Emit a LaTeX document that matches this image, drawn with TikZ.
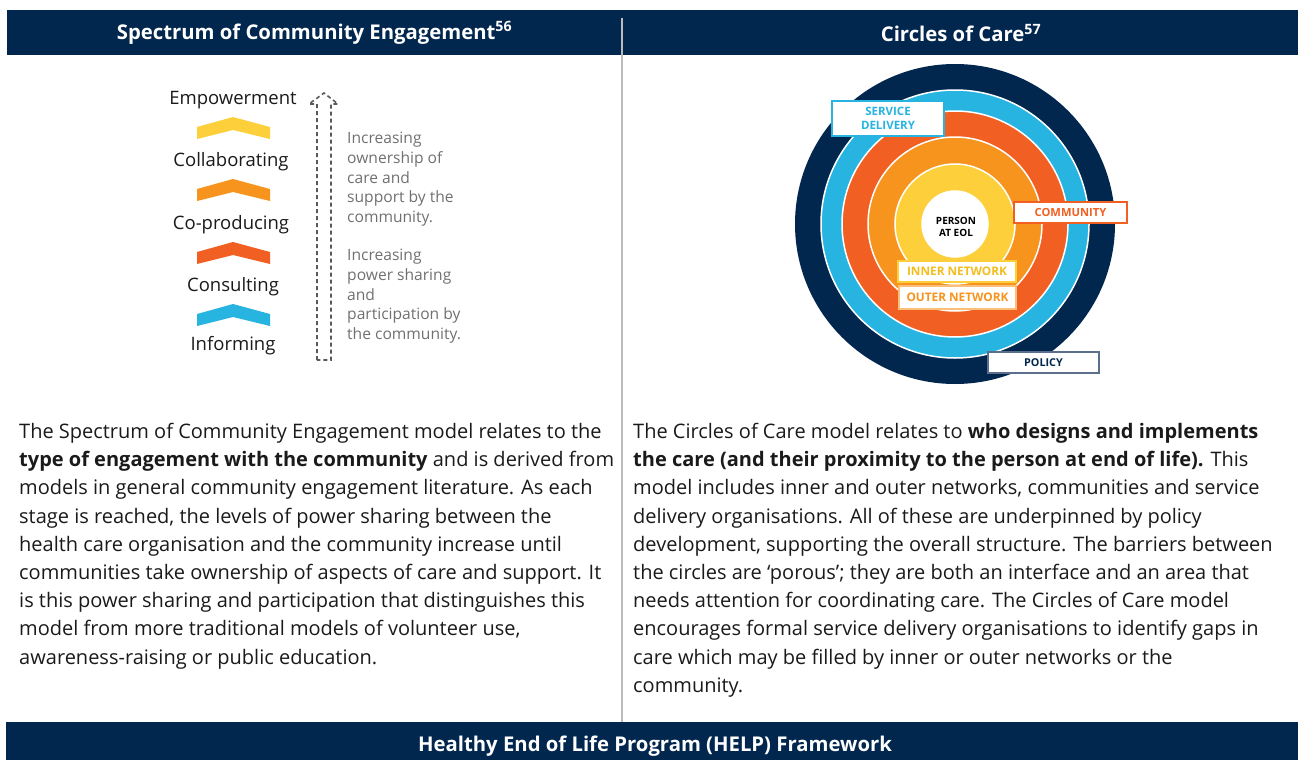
\documentclass[tikz,border=0pt]{standalone}
\usepackage{fontspec}
\setmainfont{Open Sans}
\definecolor{navy}{HTML}{02274F}
\definecolor{cblue}{HTML}{27B4E1}
\definecolor{cred}{HTML}{F15F22}
\definecolor{corange}{HTML}{F7941E}
\definecolor{cyellow}{HTML}{FDD03B}
\definecolor{cyelltxt}{HTML}{F2BE1E}
\definecolor{textc}{HTML}{1A1A1A}
\definecolor{greytxt}{HTML}{707070}
\definecolor{divc}{HTML}{BBBBBB}
\definecolor{polbord}{HTML}{5B6E8C}
\tikzset{
  band/.style={fill=navy, draw=none, inner sep=0, anchor=north west},
  hdr/.style={text=white, font=\fontsize{20.3}{24}\selectfont\bfseries, inner sep=0},
  para/.style={text=textc, font=\fontsize{20}{28.2}\selectfont, align=left, inner sep=0, anchor=north west},
  greyp/.style={text=greytxt, font=\fontsize{15.6}{19.7}\selectfont, align=left, inner sep=0, anchor=north west},
  stage/.style={text=textc, font=\fontsize{18.5}{22}\selectfont, inner sep=0},
  ring/.style={draw=white, line width=1.5pt},
  lab/.style={fill=white, line width=1.2pt, align=center, inner sep=0},
}
\begin{document}
\begin{tikzpicture}[x=1pt,y=-1pt]
\useasboundingbox (0,0) rectangle (1298,760);
% header bands
\node[band, minimum width=615pt, minimum height=45pt] (bandL) at (7,10) {};
\node[band, minimum width=676pt, minimum height=45pt] (bandR) at (622,10) {};
\node[hdr] (h1) at (314.5,33) {Spectrum of Community Engagement\textsuperscript{56}};
\node[hdr] (h2) at (961,33) {Circles of Care\textsuperscript{57}};
\node[band, minimum width=1292pt, minimum height=38pt] (bandB) at (6,722) {};
\node[hdr] (h3) at (655,746) {Healthy End of Life Program (HELP) Framework};
% divider
\coordinate (d1) at (622,18);
\coordinate (d2) at (622,722);
\draw[divc, line width=1.5pt] (d1) -- (d2);

% chevrons
\foreach \yy/\c in {117/cyellow,179/corange,242/cred,304/cblue}{
  \fill[\c] (197,\yy+10) -- (233,\yy) -- (270,\yy+10) -- (270,\yy+22) -- (233,\yy+13) -- (197,\yy+22) -- cycle;
}
\node[stage] (s1) at (233,100) {Empowerment};
\node[stage] (s2) at (231,162) {Collaborating};
\node[stage] (s3) at (231,225) {Co-producing};
\node[stage] (s4) at (233,287) {Consulting};
\node[stage] (s5) at (233,346) {Informing};

% dashed hollow arrow
\draw[dashed, dash pattern=on 4pt off 3pt, draw=black!65, line width=1.6pt, line join=miter]
  (317,360) -- (317,104) -- (309,104) -- (324,93) -- (338,104) -- (331,104) -- (331,360) -- cycle;

\node[greyp] (g1) at (347,132) {Increasing\\ownership of\\care and\\support by the\\community.};
\node[greyp] (g2) at (347,249) {Increasing\\power sharing\\and\\participation by\\the community.};

% circles of care
\coordinate (c) at (955,224);
\fill[navy] (c) circle (160);
\filldraw[cblue, ring] (c) circle (134);
\filldraw[cred, ring] (c) circle (113);
\filldraw[corange, ring] (c) circle (87);
\filldraw[cyellow, ring] (c) circle (60);
\filldraw[white, ring] (c) circle (33);
\node[font=\fontsize{10}{12}\selectfont\bfseries, align=center, text=black, inner sep=0] (p) at (956,227) {PERSON\\AT EOL};

\node[lab, draw=cblue, text=cblue, minimum width=112pt, minimum height=35pt, font=\fontsize{11.5}{13.5}\selectfont\bfseries] (sd) at (888,118.5) {SERVICE\\DELIVERY};
\node[lab, draw=cred, text=cred, minimum width=113pt, minimum height=21pt, font=\fontsize{11.2}{13}\selectfont\bfseries] (cm) at (1070.5,212.5) {COMMUNITY};
\node[lab, draw=cyellow, text=cyelltxt, minimum width=118pt, minimum height=21pt, font=\fontsize{11.8}{13}\selectfont\bfseries] (in) at (957,271.5) {INNER NETWORK};
\node[lab, draw=corange!60, text=corange, minimum width=117pt, minimum height=23pt, font=\fontsize{11.8}{13}\selectfont\bfseries] (on) at (957.5,297.5) {OUTER NETWORK};
\node[lab, draw=polbord, text=navy, minimum width=111pt, minimum height=21pt, font=\fontsize{10.8}{13}\selectfont\bfseries] (po) at (1043.5,362.5) {POLICY};

% paragraphs
\node[para] (pL) at (19,423) {The Spectrum of Community Engagement model relates to the\\
\textbf{type of engagement with the community} and is derived from\\
models in general community engagement literature. As each\\
stage is reached, the levels of power sharing between the\\
health care organisation and the community increase until\\
communities take ownership of aspects of care and support. It\\
is this power sharing and participation that distinguishes this\\
model from more traditional models of volunteer use,\\
awareness-raising or public education.};
\node[para] (pR) at (633,423) {The Circles of Care model relates to \textbf{who designs and implements}\\
\textbf{the care (and their proximity to the person at end of life).} This\\
model includes inner and outer networks, communities and service\\
delivery organisations. All of these are underpinned by policy\\
development, supporting the overall structure. The barriers between\\
the circles are ‘porous’; they are both an interface and an area that\\
needs attention for coordinating care. The Circles of Care model\\
encourages formal service delivery organisations to identify gaps in\\
care which may be filled by inner or outer networks or the\\
community.};
\end{tikzpicture}
\end{document}
